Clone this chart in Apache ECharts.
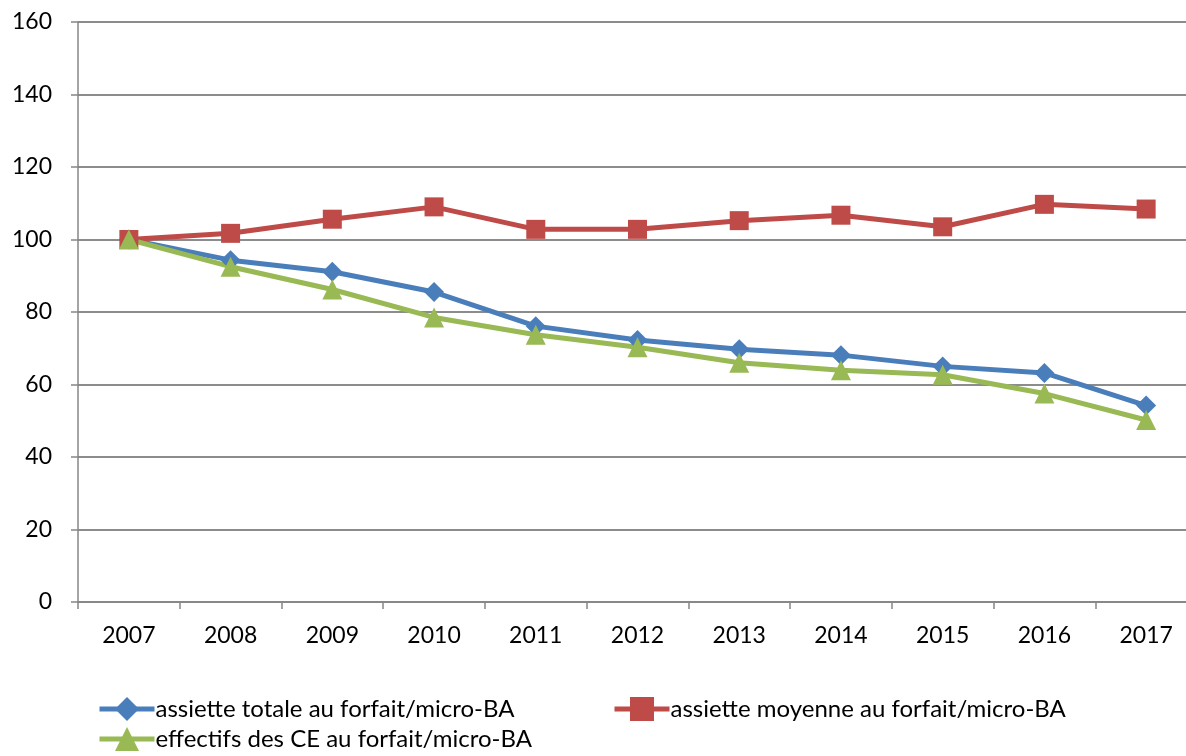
<!DOCTYPE html>
<html>
<head>
<meta charset="utf-8">
<script src="https://cdn.jsdelivr.net/npm/echarts@6/dist/echarts.min.js"></script>
<style>
  html, body { margin: 0; padding: 0; background: #fff; overflow: hidden; }
  /* the plot area runs slightly past the right edge of the page */
  #chart { width: 1197px; height: 756px; }
</style>
</head>
<body>
<div id="chart"></div>
<script>
// Index base 100 in 2007
const years = ['2007', '2008', '2009', '2010', '2011', '2012', '2013', '2014', '2015', '2016', '2017'];
const assietteTotale = [100, 94.3, 91.1, 85.5, 76.1, 72.3, 69.7, 68.1, 65.0, 63.2, 54.2];
const assietteMoyenne = [100, 101.7, 105.6, 109.0, 102.8, 102.8, 105.2, 106.7, 103.5, 109.7, 108.4];
const effectifs = [100, 92.5, 86.2, 78.5, 73.7, 70.3, 66.0, 63.9, 62.7, 57.5, 50.2];
const yTicks = { min: 0, max: 160, step: 20 };

const seriesNames = [
  'assiette totale au forfait/micro-BA',
  'assiette moyenne au forfait/micro-BA',
  'effectifs des CE au forfait/micro-BA'
];

const FONT = 'Lato, "Open Sans", sans-serif';
const chart = echarts.init(document.getElementById('chart'));

function lineSeries(name, data, color, symbol, size) {
  return {
    name: name,
    type: 'line',
    data: data,
    symbol: symbol,
    symbolSize: size,
    showAllSymbol: true,
    lineStyle: { color: color, width: 5 },
    itemStyle: { color: color },
    emphasis: { disabled: true },
    animation: false
  };
}

function legendItem(name, left, top) {
  return {
    left: left,
    top: top,
    padding: 0,
    orient: 'horizontal',
    itemWidth: 55,
    itemHeight: 30,
    selectedMode: false,
    lineStyle: { width: 5 },
    textStyle: { color: '#000', fontFamily: FONT, fontSize: 24, padding: [0, 0, 0, -4] },
    data: [name]
  };
}

chart.setOption({
  animation: false,
  backgroundColor: '#ffffff',
  grid: { left: 78, top: 22, right: 0, bottom: 154, containLabel: false },
  xAxis: {
    type: 'category',
    data: years,
    boundaryGap: true,
    axisLine: { show: true, lineStyle: { color: '#868686', width: 1.5 } },
    axisTick: { show: true, length: 7, lineStyle: { color: '#868686', width: 1.5 } },
    axisLabel: { color: '#000', fontFamily: FONT, fontSize: 23, margin: 22 },
    splitLine: { show: false }
  },
  yAxis: {
    type: 'value',
    min: yTicks.min,
    max: yTicks.max,
    interval: yTicks.step,
    axisLine: { show: true, lineStyle: { color: '#868686', width: 1.5 } },
    axisTick: { show: true, length: 7, lineStyle: { color: '#868686', width: 1.5 } },
    axisLabel: { color: '#000', fontFamily: FONT, fontSize: 23, margin: 26 },
    splitLine: { show: true, lineStyle: { color: '#8c8c8c', width: 2 } }
  },
  legend: [
    legendItem(seriesNames[0], 97, 697),
    legendItem(seriesNames[1], 612, 697),
    legendItem(seriesNames[2], 97, 727)
  ],
  series: [
    lineSeries(seriesNames[0], assietteTotale, '#4A7EBB', 'diamond', 20),
    lineSeries(seriesNames[1], assietteMoyenne, '#BE4B48', 'rect', 19),
    lineSeries(seriesNames[2], effectifs, '#98B954', 'triangle', 20)
  ]
});
</script>
</body>
</html>
